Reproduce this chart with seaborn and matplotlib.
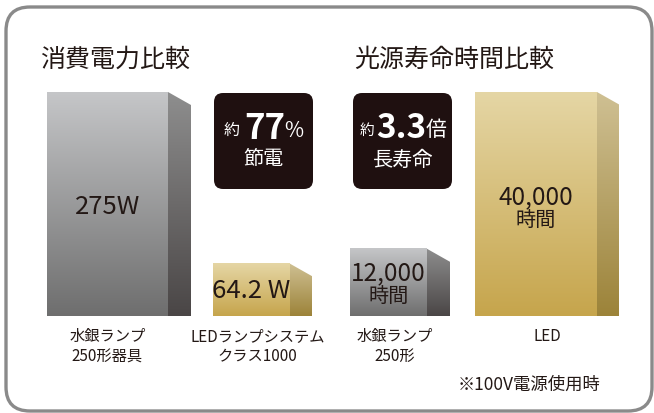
import numpy as np
import pandas as pd
import seaborn as sns
import matplotlib.pyplot as plt
from matplotlib.colors import LinearSegmentedColormap
from matplotlib.patches import FancyBboxPatch, Polygon

# power consumption panel
power_labels = ["水銀ランプ\n250形器具", "LEDランプシステム\nクラス1000"]
power_watts = [275, 64.2]
power_texts = ["275W", "64.2 W"]

# lamp life panel
life_labels = ["水銀ランプ\n250形", "LED"]
life_hours = [12000, 40000]
life_texts = ["12,000", "40,000"]
life_unit = "時間"

sns.set_theme(style="white")
plt.rcParams["font.family"] = ["Noto Sans CJK JP", "DejaVu Sans"]

INK = "#231815"
GRAY = LinearSegmentedColormap.from_list("gray", ["#c5c6c8", "#6e6e6e"])
GRAY_SIDE = LinearSegmentedColormap.from_list("gray_side", ["#8e8e8e", "#4a4646"])
GOLD = LinearSegmentedColormap.from_list("gold", ["#e5d6a5", "#c6a54c"])
GOLD_SIDE = LinearSegmentedColormap.from_list("gold_side", ["#cfc093", "#9c8339"])

W, H = 654, 414
fig = plt.figure(figsize=(W / 100, H / 100), dpi=100)

bg = fig.add_axes([0, 0, 1, 1])
bg.set_xlim(0, W)
bg.set_ylim(H, 0)
bg.axis("off")
bg.add_patch(FancyBboxPatch((6, 8), 646, 404, boxstyle="round,pad=0,rounding_size=24",
                            fc="white", ec="#8a8a8a", lw=2.4))


def px_axes(x0, x1, y0, y1):
    return fig.add_axes([x0 / W, 1 - y1 / H, (x1 - x0) / W, (y1 - y0) / H])


def bar_panel(ax, labels, values, widths_px, centers_px, span_px, fronts, sides, label_shift):
    df = pd.DataFrame({"label": labels, "value": values})
    sns.barplot(data=df, x="label", y="value", hue="label", palette=["#888888", "#bbbbbb"],
                legend=False, errorbar=None, ax=ax)
    c0, c1 = centers_px
    s = c1 - c0
    xlim = (-(c0 - span_px[0]) / s, 1 + (span_px[1] - c1) / s)
    top = max(values)
    ux = 1 / s
    uy = top / ax.bbox.height
    grad = np.linspace(0, 1, 256).reshape(-1, 1)
    for i, p in enumerate(ax.patches):
        h = p.get_height()
        w = widths_px[i] * ux
        left = i - w / 2
        p.set_x(left)
        p.set_width(w)
        p.set_alpha(0)
        ax.imshow(grad, cmap=fronts[i], extent=[left, left + w, 0, h], aspect="auto", zorder=2)
        dx, dy = 23 * ux, 13 * uy
        side = Polygon([(left + w, h), (left + w + dx, h - dy), (left + w + dx, 0), (left + w, 0)],
                       closed=True, fc="none", ec="none")
        ax.add_patch(side)
        im = ax.imshow(grad, cmap=sides[i], extent=[left + w, left + w + dx, 0, h],
                       aspect="auto", zorder=2)
        im.set_clip_path(side)
    ax.set_xlim(*xlim)
    ax.set_ylim(0, top)
    ax.set_xticks([i + label_shift[i] * ux for i in range(len(labels))], labels)
    ax.tick_params(axis="x", length=0, pad=8, labelsize=11, labelcolor=INK)
    for t in ax.get_xticklabels():
        t.set_linespacing(1.25)
    ax.set_yticks([])
    ax.set_xlabel("")
    ax.set_ylabel("")
    ax.set_facecolor("none")
    sns.despine(ax=ax, left=True, bottom=True)


ax1 = px_axes(47, 312, 93, 317)
bar_panel(ax1, power_labels, power_watts, [121, 77], [107.5, 251.5], [47, 312],
          [GRAY, GOLD], [GRAY_SIDE, GOLD_SIDE], [0, 6])
for i, (v, t) in enumerate(zip(power_watts, power_texts)):
    ax1.text(i, v * 0.49, t, ha="center", va="center", fontsize=18.5, color=INK)

ax2 = px_axes(350, 619, 93, 317)
bar_panel(ax2, life_labels, life_hours, [77, 122], [388.5, 536], [350, 619],
          [GRAY, GOLD], [GRAY_SIDE, GOLD_SIDE], [6, 11])
for i, (v, t) in enumerate(zip(life_hours, life_texts)):
    ax2.annotate(t, (i, v * 0.485), xytext=(0, 8.3), textcoords="offset points",
                 ha="center", va="center", fontsize=17.5, color=INK)
    ax2.annotate(life_unit, (i, v * 0.485), xytext=(0, -8.5), textcoords="offset points",
                 ha="center", va="center", fontsize=14.5, color=INK)

# titles
bg.text(40, 60, "消費電力比較", fontsize=18, color=INK, va="center", ha="left")
bg.text(354, 60, "光源寿命時間比較", fontsize=18, color=INK, va="center", ha="left")

# callout boxes
for bx in (214, 353):
    bg.add_patch(FancyBboxPatch((bx, 94), 99, 96, boxstyle="round,pad=0,rounding_size=9",
                                fc="#1f1010", ec="none"))
bg.text(232, 130, "約", fontsize=11.5, color="white", ha="center", va="center")
bg.text(265, 129, "77", fontsize=25, fontweight="bold", color="white", ha="center", va="center")
bg.text(294, 131, "%", fontsize=15, color="white", ha="center", va="center")
bg.text(263, 160, "節電", fontsize=14.5, color="white", ha="center", va="center")
bg.text(367, 131, "約", fontsize=10.5, color="white", ha="center", va="center")
bg.text(401, 129, "3.3", fontsize=24, fontweight="bold", color="white", ha="center", va="center")
bg.text(436, 130, "倍", fontsize=15, color="white", ha="center", va="center")
bg.text(403, 161, "長寿命", fontsize=14.5, color="white", ha="center", va="center")

bg.text(458, 385, "※100V電源使用時", fontsize=12.5, color=INK, ha="left", va="center")

fig.savefig("out.png", dpi=100)
